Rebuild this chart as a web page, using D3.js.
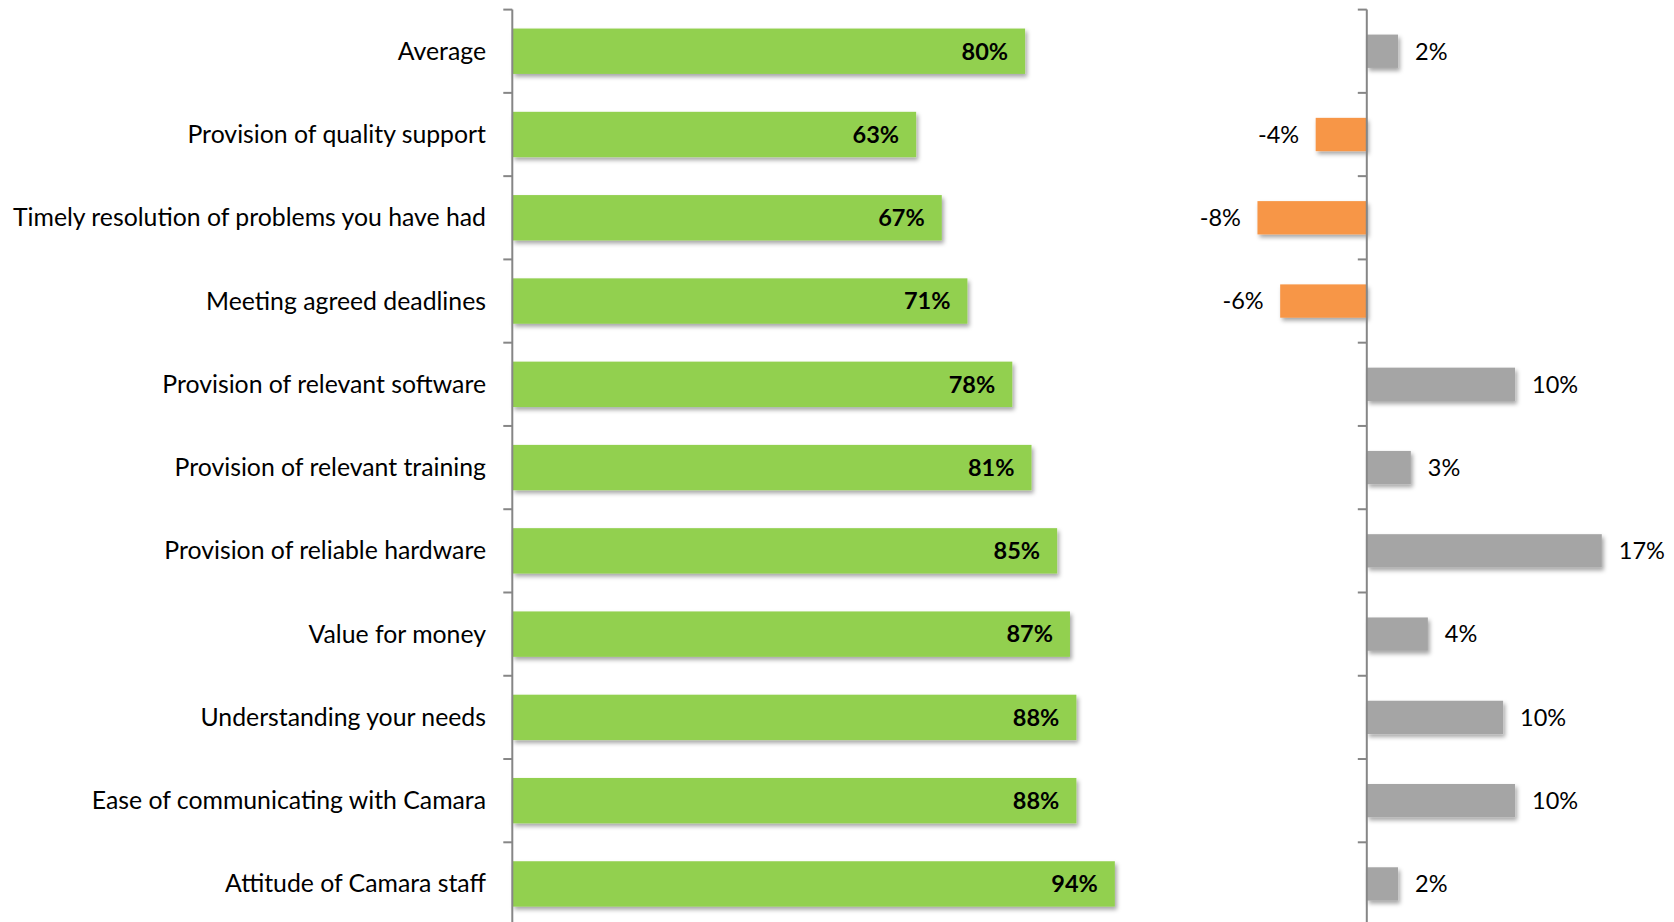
<!DOCTYPE html>
<html>
<head>
<meta charset="utf-8">
<script src="https://cdn.jsdelivr.net/npm/d3@7/dist/d3.min.js"></script>
<style>
  html, body { margin: 0; padding: 0; background: #ffffff; }
  svg { display: block; }
  text { font-family: Lato, "Open Sans", sans-serif; fill: #000; }
</style>
</head>
<body>
<svg id="chart" width="1674" height="922"></svg>
<script>
// Satisfaction score per service area, and the change against the previous survey
const categories = [
  "Average",
  "Provision of quality support",
  "Timely resolution of problems you have had",
  "Meeting agreed deadlines",
  "Provision of relevant software",
  "Provision of relevant training",
  "Provision of reliable hardware",
  "Value for money",
  "Understanding your needs",
  "Ease of communicating with Camara",
  "Attitude of Camara staff"
];
const scores  = [0.80, 0.63, 0.67, 0.71, 0.78, 0.81, 0.85, 0.87, 0.88, 0.88, 0.94];
const changes = [0.022, -0.036, -0.077, -0.061, 0.1044, 0.031, 0.1655, 0.043, 0.096, 0.1044, 0.022];

const colors = { score: "#92D050", up: "#A5A5A5", down: "#F79646", axis: "#868686" };

const svg = d3.select("#chart");
const W = 1674, H = 922;

// Shared vertical layout: one band per category
const plotTop = 9.6, bandStep = 83.27;
const rangeY = [plotTop, plotTop + bandStep * categories.length];

const yLeft = d3.scaleBand().domain(categories).range(rangeY)
  .paddingInner(0.455).paddingOuter(0.2275);
const yRight = d3.scaleBand().domain(categories).range(rangeY)
  .paddingInner(0.6).paddingOuter(0.3);

// Horizontal scales for the two panels
const leftZero = 512.3, rightZero = 1366.8;
const xLeft = d3.scaleLinear().domain([0, 1]).range([leftZero, leftZero + 641]);
const xRight = d3.scaleLinear().domain([0, 0.1]).range([rightZero, rightZero + 142]);

// Soft drop shadow under every bar
const defs = svg.append("defs");
const f = defs.append("filter").attr("id", "shadow")
  .attr("x", "-10%").attr("y", "-30%").attr("width", "130%").attr("height", "180%");
f.append("feDropShadow").attr("dx", 2).attr("dy", 3).attr("stdDeviation", 2)
  .attr("flood-color", "#000").attr("flood-opacity", 0.35);

// Percent labels with a plain hyphen for negatives
const pct = d3.formatLocale({
  decimal: ".", thousands: ",", grouping: [3], currency: ["", ""], minus: "-"
}).format(".0%");
const nameSize = 24.8, valueSize = 23.5;

// Category axis with ticks on band boundaries
function drawAxis(x0) {
  const g = svg.append("g");
  g.append("line").attr("x1", x0).attr("x2", x0)
    .attr("y1", rangeY[0]).attr("y2", H + 10)
    .attr("stroke", colors.axis).attr("stroke-width", 2);
  const bounds = d3.range(categories.length + 1).map(i => rangeY[0] + yLeft.step() * i);
  g.selectAll("line.tick").data(bounds).join("line").attr("class", "tick")
    .attr("x1", x0 - 9).attr("x2", x0)
    .attr("y1", d => d).attr("y2", d => d)
    .attr("stroke", colors.axis).attr("stroke-width", 2);
}

const rows = categories.map((c, i) => ({ cat: c, score: scores[i], change: changes[i] }));
const center = (scale, c) => scale(c) + scale.bandwidth() / 2;

// Left panel: scores
svg.append("g").selectAll("rect").data(rows).join("rect")
  .attr("x", xLeft(0))
  .attr("y", d => yLeft(d.cat))
  .attr("width", d => xLeft(d.score) - xLeft(0))
  .attr("height", yLeft.bandwidth())
  .attr("fill", colors.score)
  .attr("filter", "url(#shadow)");

svg.append("g").selectAll("text").data(rows).join("text")
  .attr("x", d => xLeft(d.score) - 17)
  .attr("y", d => center(yLeft, d.cat) + 8.3)
  .attr("text-anchor", "end")
  .attr("font-size", valueSize)
  .attr("font-weight", "bold")
  .text(d => pct(d.score));

// Category names
svg.append("g").selectAll("text").data(rows).join("text")
  .attr("x", 486)
  .attr("y", d => center(yLeft, d.cat) + 8.5)
  .attr("text-anchor", "end")
  .attr("font-size", nameSize)
  .text(d => d.cat);

drawAxis(leftZero);

// Right panel: change since last survey
svg.append("g").selectAll("rect").data(rows).join("rect")
  .attr("x", d => Math.min(xRight(0), xRight(d.change)))
  .attr("y", d => yRight(d.cat))
  .attr("width", d => Math.abs(xRight(d.change) - xRight(0)))
  .attr("height", yRight.bandwidth())
  .attr("fill", d => d.change < 0 ? colors.down : colors.up)
  .attr("filter", "url(#shadow)");

svg.append("g").selectAll("text").data(rows).join("text")
  .attr("x", d => d.change < 0 ? xRight(d.change) - 16.5 : xRight(d.change) + 17)
  .attr("y", d => center(yRight, d.cat) + 8.3)
  .attr("text-anchor", d => d.change < 0 ? "end" : "start")
  .attr("font-size", valueSize)
  .text(d => pct(d.change));

drawAxis(rightZero);
</script>
</body>
</html>
